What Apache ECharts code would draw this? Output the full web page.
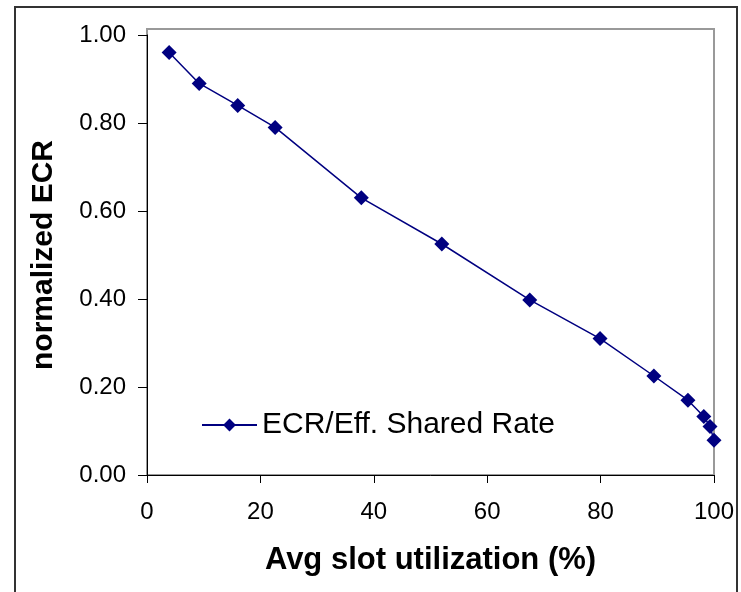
<!DOCTYPE html>
<html>
<head>
<meta charset="utf-8">
<script src="https://cdn.jsdelivr.net/npm/echarts@6/dist/echarts.min.js"></script>
<style>
  html, body { margin: 0; padding: 0; background: #fff; }
  #chart { width: 741px; height: 592px; }
</style>
</head>
<body>
<div id="chart"></div>
<script>
// slot utilization (x) vs normalized ECR (y)
var utilX = [3.9, 9.2, 16.0, 22.6, 37.8, 52.0, 67.5, 79.9, 89.4, 95.4, 98.2, 99.3, 100];
var ecrY  = [0.96, 0.89, 0.84, 0.79, 0.63, 0.525, 0.398, 0.31, 0.225, 0.17, 0.133, 0.11, 0.079];
var seriesName = 'ECR/Eff. Shared Rate';
var xTitle = 'Avg slot utilization (%)';
var yTitle = 'normalized ECR';

var font = "'Liberation Sans', Arial, sans-serif";

var chart = echarts.init(document.getElementById('chart'));

var points = [];
for (var i = 0; i < utilX.length; i++) {
    points.push([utilX[i], ecrY[i]]);
}

var option = {
    animation: false,
    backgroundColor: '#fff',
    textStyle: { fontFamily: font },
    graphic: [
        // outer chart border
        { type: 'rect', z: 0, silent: true,
          shape: { x: 15, y: 7, width: 722, height: 600 },
          style: { fill: 'none', stroke: '#333', lineWidth: 2 } },
        // plot area frame
        { type: 'rect', z: 0, silent: true,
          shape: { x: 147, y: 29, width: 567, height: 446 },
          style: { fill: 'none', stroke: '#999', lineWidth: 2 } }
    ],
    grid: { left: 147, right: 27, top: 35, bottom: 117 },
    legend: {
        left: 196, top: 405,
        itemWidth: 55, itemHeight: 16,
        textStyle: { fontSize: 30, color: '#000', fontFamily: font },
        data: [seriesName]
    },
    xAxis: {
        type: 'value', min: 0, max: 100, interval: 20,
        name: xTitle, nameLocation: 'middle', nameGap: 70,
        nameTextStyle: { fontSize: 31, fontWeight: 'bold', color: '#000', fontFamily: font },
        axisLine: { lineStyle: { color: '#000', width: 1 } },
        axisTick: { inside: false, length: 8, lineStyle: { color: '#000' } },
        axisLabel: { fontSize: 24, color: '#000', margin: 25, fontFamily: font },
        splitLine: { show: false }
    },
    yAxis: {
        type: 'value', min: 0, max: 1, interval: 0.2,
        name: yTitle, nameLocation: 'middle', nameGap: 88, nameRotate: 90,
        nameTextStyle: { fontSize: 30, fontWeight: 'bold', color: '#000', fontFamily: font },
        axisLine: { show: true, lineStyle: { color: '#000', width: 1 } },
        axisTick: { show: true, inside: false, length: 9, lineStyle: { color: '#000' } },
        axisLabel: {
            fontSize: 24, color: '#000', margin: 21, fontFamily: font,
            formatter: function (v) { return v.toFixed(2); }
        },
        splitLine: { show: false }
    },
    series: [{
        name: seriesName,
        type: 'line',
        data: points,
        symbol: 'diamond',
        symbolSize: 15,
        itemStyle: { color: '#000080' },
        lineStyle: { color: '#000080', width: 1.5 }
    }]
};

chart.setOption(option);
</script>
</body>
</html>
